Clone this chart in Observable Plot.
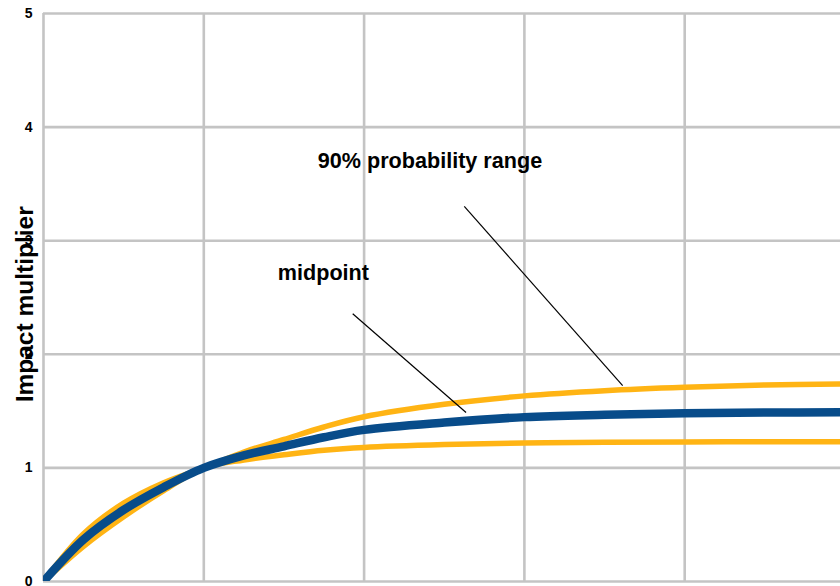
<!DOCTYPE html>
<html>
<head>
<meta charset="utf-8">
<script src="https://cdn.jsdelivr.net/npm/d3@7"></script>
<script src="https://cdn.jsdelivr.net/npm/@observablehq/plot@0.6"></script>
<style>
  html, body { margin: 0; padding: 0; background: #fff; }
</style>
</head>
<body>
<div id="chart"></div>
<script>
// x positions (multiples) at which values were read
const xs = [0, 0.25, 0.5, 0.75, 1, 1.25, 1.5, 1.75, 2, 2.5, 3, 3.5, 4, 4.5, 5];
// midpoint curve
const midpoint = [0, 0.37, 0.63, 0.83, 1, 1.11, 1.19, 1.27, 1.335, 1.40, 1.447, 1.467, 1.48, 1.487, 1.49];
// 90% probability range: upper and lower bounds
const upper = [0, 0.42, 0.69, 0.87, 1, 1.14, 1.25, 1.36, 1.45, 1.56, 1.634, 1.68, 1.71, 1.73, 1.74];
const lower = [0, 0.31, 0.57, 0.80, 1, 1.07, 1.115, 1.155, 1.18, 1.205, 1.22, 1.226, 1.229, 1.23, 1.23];

const yTicks = [0, 1, 2, 3, 4, 5];
const xGrid = [0, 1, 2, 3, 4, 5];

const yTitle = "Impact multiplier";
// annotation labels and leader lines (data coordinates)
const labels = [
  {text: "90% probability range", x: 2.411, y: 3.70},
  {text: "midpoint", x: 1.746, y: 2.715}
];
const leaders = [
  {x1: 2.625, y1: 3.302, x2: 3.613, y2: 1.725},
  {x1: 1.929, y1: 2.357, x2: 2.636, y2: 1.487}
];

const toRows = (vals) => xs.map((x, i) => ({x, y: vals[i]}));

const chart = Plot.plot({
  width: 840,
  height: 586,
  marginLeft: 43,
  marginRight: 0,
  marginTop: 13,
  marginBottom: 5,
  style: {fontFamily: "'Liberation Sans', Arial, sans-serif", background: "#fff", color: "#000"},
  x: {domain: [0, 797 / 160.3], axis: null},
  y: {domain: [0, 5], axis: null},
  marks: [
    Plot.ruleX(xGrid, {stroke: "#c4c4c4", strokeWidth: 2.6}),
    Plot.ruleY(yTicks, {stroke: "#c4c4c4", strokeWidth: 2.6}),
    Plot.axisY({ticks: yTicks, tickFormat: d3.format("d"), tickSize: 0, tickPadding: 11, fontSize: 14, fontWeight: "bold", label: null}),
    Plot.text([yTitle], {frameAnchor: "left", textAnchor: "middle", y: [2.44], dx: -18, rotate: -90, fontSize: 24.5, fontWeight: "bold", fill: "#000"}),
    Plot.line(toRows(upper), {x: "x", y: "y", stroke: "#ffb414", strokeWidth: 5.5, curve: "catmull-rom", clip: true}),
    Plot.line(toRows(lower), {x: "x", y: "y", stroke: "#ffb414", strokeWidth: 5.5, curve: "catmull-rom", clip: true}),
    Plot.line(toRows(midpoint), {x: "x", y: "y", stroke: "#084c8a", strokeWidth: 8.5, curve: "catmull-rom", clip: true}),
    Plot.link(leaders, {x1: "x1", y1: "y1", x2: "x2", y2: "y2", stroke: "#000", strokeWidth: 1.2}),
    Plot.text(labels, {x: "x", y: "y", text: "text", fontSize: 21.6, fontWeight: "bold", fill: "#000"})
  ]
});
document.getElementById("chart").appendChild(chart);
</script>
</body>
</html>
